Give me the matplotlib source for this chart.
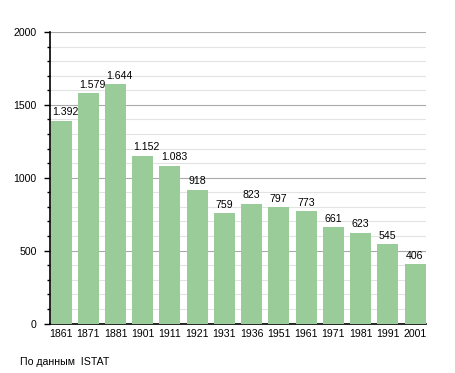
import matplotlib
matplotlib.use("Agg")
import matplotlib.pyplot as plt
from matplotlib.ticker import MultipleLocator

plt.rcParams["font.family"] = ["Liberation Sans", "DejaVu Sans"]

years = ["1861", "1871", "1881", "1901", "1911", "1921", "1931", "1936", "1951", "1961", "1971", "1981", "1991", "2001"]
population = [1392, 1579, 1644, 1152, 1083, 918, 759, 823, 797, 773, 661, 623, 545, 406]
labels = ["1.392", "1.579", "1.644", "1.152", "1.083", "918", "759", "823", "797", "773", "661", "623", "545", "406"]

W, H = 455, 373
fig = plt.figure(figsize=(W / 100, H / 100), dpi=100)
left, right, top, bottom = 50, 425.5, 32, 323.5
ax = fig.add_axes([left / W, 1 - bottom / H, (right - left) / W, (bottom - top) / H])

bw = 0.77
x = list(range(len(years)))
ax.bar(x, population, width=bw, color="#99cc99", zorder=3)
for xi, v, lab in zip(x, population, labels):
    ax.text(xi - bw / 2 + 0.05, v + 22, lab, ha="left", va="bottom", fontsize=7.6, zorder=4)

ax.set_xlim(-bw / 2 - 0.02, len(years) - 1 + bw / 2)
ax.set_ylim(0, 2000)
ax.set_xticks(x)
ax.set_xticklabels(years, fontsize=7.6)
ax.yaxis.set_major_locator(MultipleLocator(500))
ax.yaxis.set_minor_locator(MultipleLocator(100))
ax.tick_params(axis="y", labelsize=7.6, length=4, width=1, pad=5.5)
ax.tick_params(axis="y", which="minor", length=2, width=1)
ax.tick_params(axis="x", length=0, pad=4)
ax.grid(axis="y", which="major", color="#aaaaaa", linewidth=0.8, zorder=1)
ax.grid(axis="y", which="minor", color="#e3e3e3", linewidth=0.8, zorder=1)
for s in ["top", "right"]:
    ax.spines[s].set_visible(False)
ax.spines["left"].set_linewidth(1.2)
ax.spines["bottom"].set_linewidth(1.2)

fig.text(20 / W, 1 - 362 / H, "По данным  ISTAT", fontsize=7.6, va="center", ha="left")

fig.savefig("out.png", dpi=100)
